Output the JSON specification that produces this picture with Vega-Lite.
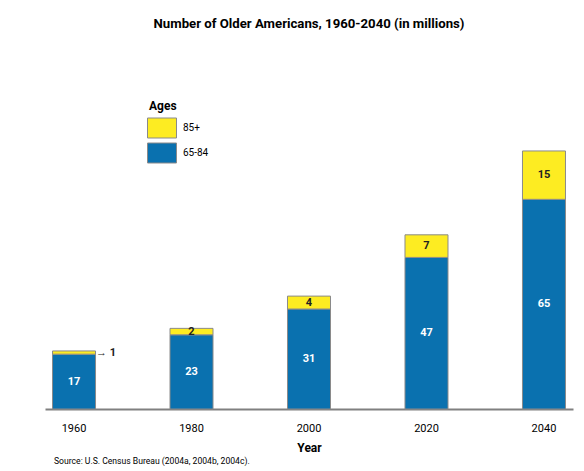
{
  "$schema": "https://vega.github.io/schema/vega-lite/v6.json",
  "padding": {"left": 45, "right": 11, "top": 16, "bottom": 5},
  "background": "white",
  "title": {
    "text": "Number of Older Americans, 1960-2040 (in millions)",
    "font": "Roboto",
    "fontSize": 13.2,
    "fontWeight": "bold",
    "color": "#000000",
    "anchor": "middle",
    "offset": 29
  },
  "config": {
    "view": {"stroke": null},
    "concat": {"spacing": 0},
    "font": "Roboto"
  },
  "vconcat": [
    {
      "width": 528,
      "height": 349,
      "title": {
        "text": "Source: U.S. Census Bureau (2004a, 2004b, 2004c).",
        "orient": "bottom",
        "anchor": "start",
        "font": "Roboto",
        "fontSize": 8.6,
        "fontWeight": "normal",
        "color": "#000000",
        "offset": 4,
        "dx": 9
      },
      "data": {
        "values": [
          {"year": "1960", "age": "65-84", "value": 17, "order": 1, "label": "17"},
          {"year": "1960", "age": "85+", "value": 1, "order": 2, "label": "1"},
          {"year": "1980", "age": "65-84", "value": 23, "order": 1, "label": "23"},
          {"year": "1980", "age": "85+", "value": 2, "order": 2, "label": "2"},
          {"year": "2000", "age": "65-84", "value": 31, "order": 1, "label": "31"},
          {"year": "2000", "age": "85+", "value": 4, "order": 2, "label": "4"},
          {"year": "2020", "age": "65-84", "value": 47, "order": 1, "label": "47"},
          {"year": "2020", "age": "85+", "value": 7, "order": 2, "label": "7"},
          {"year": "2040", "age": "65-84", "value": 65, "order": 1, "label": "65"},
          {"year": "2040", "age": "85+", "value": 15, "order": 2, "label": "15"}
        ]
      },
      "transform": [
        {"stack": "value", "groupby": ["year"], "sort": [{"field": "order"}], "as": ["v0", "v1"]},
        {"calculate": "(datum.v0 + datum.v1) / 2", "as": "vmid"}
      ],
      "encoding": {
        "x": {
          "field": "year",
          "type": "ordinal",
          "title": "Year",
          "scale": {"paddingInner": 0.634, "paddingOuter": 0.064},
          "axis": {
            "labelAngle": 0,
            "ticks": false,
            "domainColor": "#808080",
            "domainWidth": 2,
            "labelPadding": 13,
            "labelFontSize": 11,
            "labelColor": "#000000",
            "labelFont": "Roboto",
            "titleFont": "Roboto",
            "titleFontSize": 12,
            "titleFontWeight": "bold",
            "titleColor": "#000000",
            "titlePadding": 9
          }
        }
      },
      "layer": [
        {
          "mark": {"type": "bar", "stroke": "#8a8a8a", "strokeWidth": 1},
          "encoding": {
            "y": {
              "field": "v0",
              "type": "quantitative",
              "scale": {"domain": [0, 108.2], "nice": false},
              "axis": null
            },
            "y2": {"field": "v1"},
            "color": {
              "field": "age",
              "type": "nominal",
              "scale": {"domain": ["85+", "65-84"], "range": ["#FDEC22", "#0A71AF"]},
              "legend": {
                "title": "Ages",
                "orient": "none",
                "legendX": 104,
                "legendY": 41,
                "titleFont": "Roboto",
                "titleFontSize": 12,
                "titleFontWeight": "bold",
                "titleColor": "#000000",
                "titlePadding": 2,
                "labelFont": "Roboto",
                "labelFontSize": 10,
                "labelColor": "#000000",
                "labelOffset": 8,
                "symbolType": "M-1.16,-0.8L1.16,-0.8L1.16,0.8L-1.16,0.8Z",
                "symbolSize": 625,
                "symbolStrokeColor": "#8a8a8a",
                "symbolStrokeWidth": 1,
                "symbolOpacity": 1,
                "rowPadding": 0
              }
            }
          }
        },
        {
          "transform": [{"filter": "datum.age === '65-84'"}],
          "mark": {"type": "text", "color": "white", "fontWeight": "bold", "fontSize": 11, "baseline": "middle"},
          "encoding": {
            "y": {"field": "vmid", "type": "quantitative"},
            "text": {"field": "label"}
          }
        },
        {
          "transform": [{"filter": "datum.age === '85+' && datum.value > 1"}],
          "mark": {"type": "text", "color": "#222222", "fontWeight": "bold", "fontSize": 11, "baseline": "middle"},
          "encoding": {
            "y": {"field": "vmid", "type": "quantitative"},
            "text": {"field": "label"}
          }
        },
        {
          "transform": [{"filter": "datum.age === '85+' && datum.value <= 1"}],
          "mark": {"type": "text", "color": "#222222", "fontWeight": "bold", "fontSize": 11, "baseline": "middle", "align": "left", "dx": 22},
          "encoding": {
            "y": {"field": "vmid", "type": "quantitative"},
            "text": {"value": "\u2192 1"}
          }
        }
      ]
    }
  ]
}
